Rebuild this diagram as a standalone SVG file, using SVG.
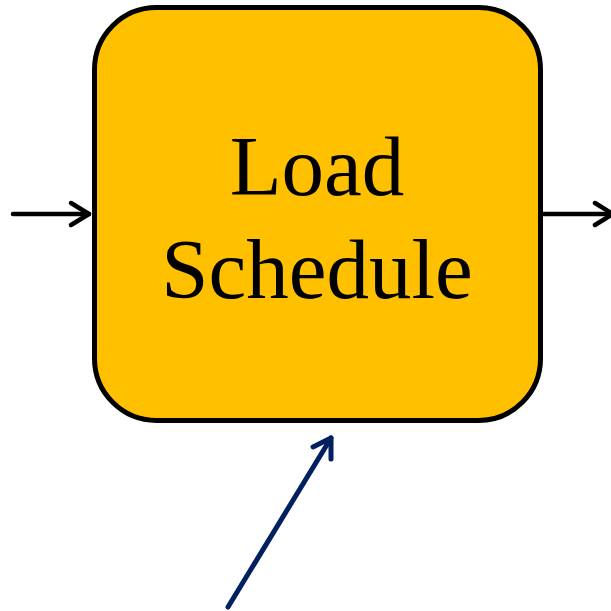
<svg xmlns="http://www.w3.org/2000/svg" width="611" height="611" viewBox="0 0 611 611">
<defs>
<style>
.box{fill:#FFC000;stroke:#000;stroke-width:5}
.lbl{font-family:"Liberation Serif","Times New Roman",serif;font-size:85px;fill:#000;text-anchor:middle}
.k{stroke:#000;stroke-width:4.5;fill:none;stroke-linecap:round;stroke-linejoin:round}
.b{stroke:#002060;stroke-width:5;fill:none;stroke-linecap:round;stroke-linejoin:round}
</style>
</defs>
<rect width="611" height="611" fill="#fff"/>
<g id="connectors">
<path class="k" d="M13,214 H89"/>
<path class="k" d="M71,203 L89,214 L71,225"/>
<path class="k" d="M543,214 H612"/>
<path class="k" d="M595,203 L613,214 L595,225"/>
<path class="b" d="M228,607 L331,438"/>
<path class="b" d="M313,447 L331,438 L331,459"/>
</g>
<g id="node-load-schedule">
<rect class="box" x="94.5" y="7.5" width="446" height="413" rx="62" ry="62"/>
<text class="lbl" x="317" y="195">Load</text>
<text class="lbl" x="317" y="298">Schedule</text>
</g>
</svg>
